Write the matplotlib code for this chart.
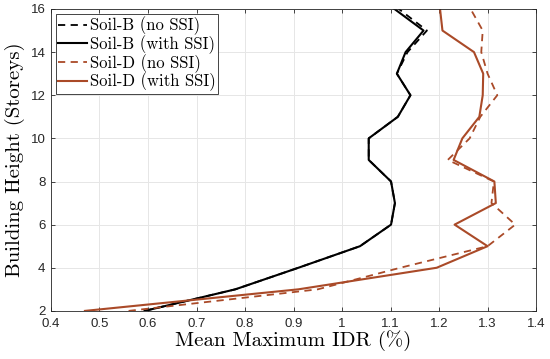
import matplotlib
matplotlib.use("Agg")
import matplotlib.pyplot as plt

storeys = [2, 3, 4, 5, 6, 7, 8, 9, 10, 11, 12, 13, 14, 15, 16]
soilB_noSSI = [0.593, 0.78, 0.91, 1.037, 1.101, 1.109, 1.101, 1.055, 1.055, 1.115, 1.141, 1.113, 1.135, 1.175, 1.117]
soilB_SSI = [0.593, 0.78, 0.91, 1.037, 1.101, 1.109, 1.101, 1.055, 1.055, 1.115, 1.141, 1.113, 1.131, 1.168, 1.108]
soilD_noSSI = [0.56, 0.95, 1.12, 1.30, 1.357, 1.308, 1.313, 1.218, 1.263, 1.285, 1.32, 1.30, 1.287, 1.29, 1.265]
soilD_SSI = [0.47, 0.91, 1.195, 1.30, 1.232, 1.317, 1.314, 1.23, 1.248, 1.283, 1.29, 1.291, 1.272, 1.207, 1.202]

xticks = [0.4, 0.5, 0.6, 0.7, 0.8, 0.9, 1.0, 1.1, 1.2, 1.3, 1.4]
xticklabels = ["0.4", "0.5", "0.6", "0.7", "0.8", "0.9", "1", "1.1", "1.2", "1.3", "1.4"]
yticks = [2, 4, 6, 8, 10, 12, 14, 16]

red = "#AA4A28"

fig = plt.figure(figsize=(5.5, 3.59), dpi=100)
ax = fig.add_axes([0.0927, 0.134, 0.882, 0.841])

ax.plot(soilB_noSSI, storeys, color="black", ls=(0, (4, 3)), lw=1.3, label="Soil-B (no SSI)")
ax.plot(soilB_SSI, storeys, color="black", ls="-", lw=1.5, label="Soil-B (with SSI)")
ax.plot(soilD_noSSI, storeys, color=red, ls=(0, (4, 3)), lw=1.3, label="Soil-D (no SSI)")
ax.plot(soilD_SSI, storeys, color=red, ls="-", lw=1.5, label="Soil-D (with SSI)")

ax.set_xlim(0.4, 1.4)
ax.set_ylim(2, 16)
ax.set_xticks(xticks)
ax.set_xticklabels(xticklabels, fontfamily="Liberation Sans", fontsize=9.5)
ax.set_yticks(yticks)
ax.set_yticklabels([str(v) for v in yticks], fontfamily="Liberation Sans", fontsize=9.5)
ax.tick_params(direction="in", top=True, right=True, length=3, width=0.6, colors="#262626")
ax.tick_params(axis="x", pad=5)
ax.tick_params(axis="y", pad=4)
ax.grid(True, color="#e6e6e6", lw=0.7)
ax.set_axisbelow(True)
for s in ax.spines.values():
    s.set_color("#262626")
    s.set_linewidth(0.6)

ax.set_xlabel("Mean Maximum IDR (%)", fontfamily="cmr10", fontsize=15, labelpad=0)
ax.set_ylabel("Building Height (Storeys)", fontfamily="cmr10", fontsize=15, labelpad=4)

leg = ax.legend(loc="upper left", prop={"family": "cmr10", "size": 12}, handlelength=1.7,
                handletextpad=0.2, borderpad=0.15, labelspacing=0.0, borderaxespad=0.3,
                fancybox=False, framealpha=1, edgecolor="#262626")
leg.get_frame().set_linewidth(0.6)

fig.savefig("out.png", dpi=100)
